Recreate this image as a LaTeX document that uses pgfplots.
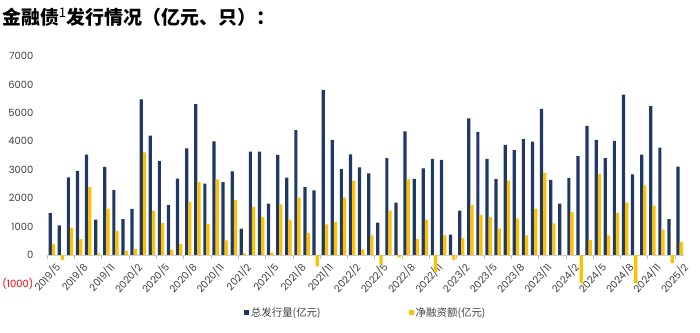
\documentclass[border=0pt]{standalone}
\usepackage{fontspec}
\usepackage{pgfplots}
\pgfplotsset{compat=1.18}
\setmainfont{Poppins}
\newfontfamily\cjk{Noto Sans CJK SC}
\definecolor{navy}{RGB}{31,56,100}
\definecolor{gold}{RGB}{255,192,0}
\definecolor{lbl}{RGB}{64,64,64}
\pgfplotstableread{
x total net
1 1470 390
2 1040 -180
3 2730 960
4 2960 560
5 3530 2390
6 1240 60
7 3100 1620
8 2290 850
9 1260 140
10 1620 210
11 5470 3610
12 4200 1560
13 3300 1120
14 1750 180
15 2690 390
16 3750 1870
17 5310 2560
18 2510 1090
19 4000 2660
20 2560 510
21 2940 1940
22 930 60
23 3640 1690
24 3640 1330
25 1810 80
26 3520 1780
27 2720 1240
28 4390 2020
29 2390 780
30 2270 -400
31 5810 1080
32 4050 1160
33 3020 2020
34 3540 2610
35 3080 200
36 2870 690
37 1140 -330
38 3410 1560
39 1840 -80
40 4350 2660
41 2680 560
42 3050 1240
43 3380 -600
44 3350 690
45 720 -180
46 1560 600
47 4810 1750
48 4330 1410
49 3380 1330
50 2680 930
51 3870 2620
52 3690 1290
53 4080 690
54 3990 1620
55 5140 2890
56 2640 1110
57 1810 0
58 2710 1510
59 3480 -1000
60 4540 530
61 4050 2850
62 3410 690
63 4010 1480
64 5640 1840
65 2840 -1000
66 3530 2450
67 5240 1740
68 3780 890
69 1260 -290
70 3110 460
}\datatable
\begin{document}
\begin{tikzpicture}[x=1bp,y=1bp]
\useasboundingbox (0,0) rectangle (700,332);
\node[anchor=west,inner sep=0pt] at (2,315) {\fontsize{19}{21}\selectfont\cjk\bfseries 金融债\textsuperscript{\normalfont\cjk 1}发行情况（亿元、只）：};
\begin{axis}[
  at={(47.2bp,48.6bp)}, anchor=south west,
  scale only axis, width=637bp, height=227.4bp,
  xmin=0.5, xmax=70.5, ymin=-1000, ymax=7000,
  enlargelimits=false,
  axis x line=middle, axis y line=left,
  axis line style={-},
  x axis line style={draw=black!20, line width=0.8bp},
  y axis line style={draw=none},
  ytick={-1000,0,1000,2000,3000,4000,5000,6000,7000},
  yticklabels={\textcolor{red}{(1000)},0,1000,2000,3000,4000,5000,6000,7000},
  ytick style={draw=none},
  xtick={1,4,...,70},
  xticklabels={2019/5,2019/8,2019/11,2020/2,2020/5,2020/8,2020/11,2021/2,2021/5,2021/8,2021/11,2022/2,2022/5,2022/8,2022/11,2023/2,2023/5,2023/8,2023/11,2024/2,2024/5,2024/8,2024/11,2025/2},
  xtick style={draw=none},
  minor xtick={0.5,3.5,...,70.5},
  tick align=outside,
  minor tick length=4bp,
  minor x tick style={draw=black!25, line width=0.8bp},
  /pgf/number format/assume math mode=true,
  yticklabel style={font=\fontsize{10}{12}\selectfont, text=lbl, xshift=-6bp},
  xticklabel style={font=\fontsize{10}{12}\selectfont, text=lbl, rotate=48, anchor=north east, inner sep=1bp, xshift=1bp, yshift=-2bp},
  ybar, bar width=3.2bp,
  legend columns=2,
  legend style={at={(0.5,-0.13)}, anchor=center, draw=none, fill=none,
    font=\fontsize{10.5}{12}\selectfont\cjk, text=lbl,
    /tikz/every even column/.append style={column sep=86bp}},
  legend image code/.code={\fill[#1,draw=none] (0bp,-2.5bp) rectangle (5bp,2.5bp);},
]
\addplot[fill=navy, draw=none, bar shift=-1.6bp] table[x=x,y=total]{\datatable};
\addlegendentry{总发行量(亿元)}
\addplot[fill=gold, draw=none, bar shift=1.6bp] table[x=x,y=net]{\datatable};
\addlegendentry{净融资额(亿元)}
\end{axis}
\end{tikzpicture}
\end{document}
